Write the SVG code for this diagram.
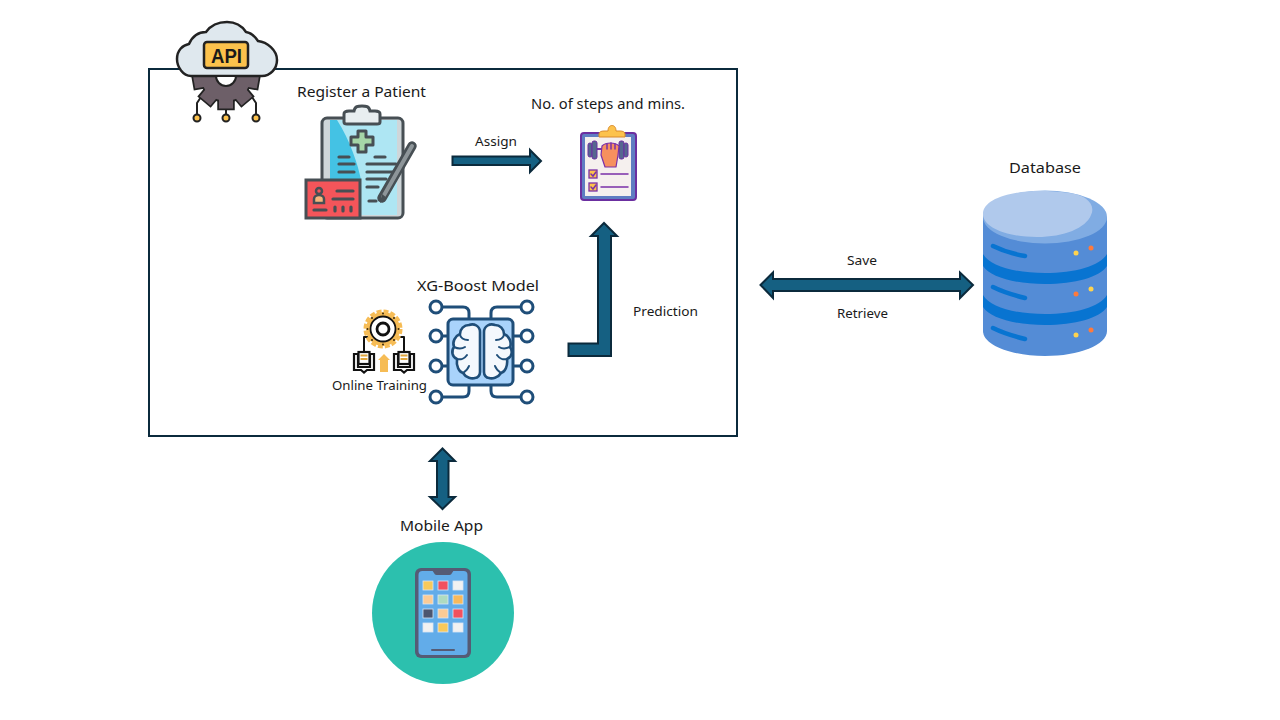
<svg xmlns="http://www.w3.org/2000/svg" width="1280" height="720" viewBox="0 0 1280 720">
<style>
text{font-family:"Noto Sans","Open Sans","Liberation Sans",sans-serif;fill:#1a1a1a;text-anchor:start}
.lg{font-size:14.5px}
.sm{font-size:12.5px}
.arr{fill:#156082;stroke:#0b2a3c;stroke-width:2;stroke-linejoin:miter}
.ln{fill:none;stroke:#474f54;stroke-width:3.200;stroke-linecap:round;stroke-linejoin:round}
.bl{fill:none;stroke:#1f4e79;stroke-width:3;stroke-linecap:round;stroke-linejoin:round}
.nd{fill:#fff;stroke:#1f4e79;stroke-width:3}
.k{fill:none;stroke:#111;stroke-width:1.800;stroke-linejoin:round;stroke-linecap:round}
.bk{fill:#fff;stroke:#111;stroke-width:2.200;stroke-linejoin:miter}
.p{fill:none;stroke:#7a2fa8;stroke-width:1.500;stroke-linecap:round}
.dbl{fill:none;stroke:#0874d1;stroke-width:4.500;stroke-linecap:round}
.y{fill:#ffd34e}.o{fill:#ff7a3c}
.ap{stroke:#d9e6f5;stroke-width:.8}
.lobe{fill:#f4f8fd;stroke:#1f4e79;stroke-width:2.600;stroke-linejoin:round}
.fold{fill:none;stroke:#1f4e79;stroke-width:2;stroke-linecap:round}
.dot{fill:#3a2a10}
</style>
<defs>
<g id="gearshape">
<rect x="-7" y="20" width="14" height="12.500" transform="rotate(0)"/>
<rect x="-7" y="20" width="14" height="12.500" transform="rotate(40)"/>
<rect x="-7" y="20" width="14" height="12.500" transform="rotate(-40)"/>
<rect x="-7" y="20" width="14" height="12.500" transform="rotate(80)"/>
<rect x="-7" y="20" width="14" height="12.500" transform="rotate(-80)"/>
<circle r="25"/>
</g>
<g id="book">
<path class="bk" d="M-10 -7H-6V6H6V-7H10V9H3L0 11.500L-3 9H-10Z"/>
<rect class="bk" x="-5.500" y="-9" width="11" height="12"/>
<path d="M-3.500 -5.500H3.500M-3.500 -2H3.500" stroke="#e0a63d" stroke-width="1.800"/>
</g>
<g id="lobe">
<path class="lobe" d="M480 332C480 326 474 323 469 325C464 325 460 329 460 334C455 336 452 342 454 347C451 351 452 357 457 359C456 366 459 372 463 373C466 378 472 379 475 378C478 378 480 375 480 372Z"/>
<path class="fold" d="M460 334C460 338 464 340 468 340M454 347C458 349 462 349 465 347M457 359C461 360 465 358 467 355M463 373C466 371 468 369 469 366"/>
</g>
</defs>
<rect width="1280" height="720" fill="#fff"/>
<g id="frame"><rect x="149" y="69" width="588" height="367" fill="#fff" stroke="#0b2a3c" stroke-width="2"/></g>

<g id="connectors">
<path class="arr" d="M452.500 156.500H530V150L541 161L530 172V165H452.500Z"/>
<path class="arr" d="M568.500 343.500H598V236H591L604 223L617 236H611V356H568.500Z"/>
<path class="arr" d="M760.500 285L773 272.500V279H960V272.500L973 285L960 298V291H773V298Z"/>
<path class="arr" d="M442.500 448.500L455 461H448.500V497H455L442.500 509L430 497H437V461H430Z"/>
</g>

<g id="api">
<path class="k" style="stroke:#222;stroke-width:2" d="M203 94L197 103V114M226 104V114M250 94L256 103V114"/>
<use href="#gearshape" transform="translate(226 76)" fill="#6d5f68" stroke="#222" stroke-width="3.500"/>
<use href="#gearshape" transform="translate(226 76)" fill="#6d5f68"/>
<g fill="#fcc24c" stroke="#222" stroke-width="2"><circle cx="197" cy="118" r="3.500"/><circle cx="226" cy="118" r="3.500"/><circle cx="256" cy="118" r="3.500"/></g>
<path d="M191 76C183 76 177 67 177 59C177 50 183 45 189 44C193 35 200 32 206 32C211 25 218 22 227 22C236 22 242 26 246 32C252 33 256 38 258 41C267 42 277 50 277 60C277 69 270 76 262 76Z" fill="#dfe8ee" stroke="#222" stroke-width="2.500" stroke-linejoin="round"/>
<path d="M216 76A10 10 0 0 0 236 76Z" fill="#fff" stroke="#222" stroke-width="2"/>
<rect x="204" y="42" width="44" height="26" rx="3" fill="#fcc24c" stroke="#222" stroke-width="2.500"/>
<text x="211" y="63" textLength="31" lengthAdjust="spacingAndGlyphs" style="font-family:'Liberation Sans',sans-serif;font-weight:700;font-size:21px">API</text>
</g>

<g id="register">
<text class="lg" x="297" y="97" textLength="129" lengthAdjust="spacingAndGlyphs">Register a Patient</text>
<rect x="322" y="118" width="81" height="100" rx="5" fill="#cfd6d9" stroke="#474f54" stroke-width="3"/>
<rect x="330" y="120" width="67" height="95" fill="#44c2e4"/>
<path d="M337 120H397V215H361V180C358 165 350 140 337 120Z" fill="#aee6f3"/>
<path d="M344 122V114C344 112 346 111 349 111H354C355 106 358 106 362 106C366 106 369 106 370 111H375C378 111 380 112 380 114V122C380 123 379 124 377 124H347C345 124 344 123 344 122Z" fill="#e8eef0" stroke="#474f54" stroke-width="3"/>
<path d="M358 131H366V137H373V145H366V152H358V145H351V137H358Z" fill="#a5d6a7" stroke="#474f54" stroke-width="3" stroke-linejoin="round"/>
<path class="ln" d="M339 157H349M339 164H354M339 172H354M375 157H385M367 164H396M367 172H394M367 179H386M367 187H378M369 201H376"/>
<path d="M382 198L412 146" stroke="#474f54" stroke-width="9.500" stroke-linecap="round" fill="none"/>
<path d="M383 197L412 146" stroke="#8d9599" stroke-width="4" stroke-linecap="round" fill="none"/>
<path d="M382 194L380 203L387 198Z" fill="#474f54"/>
<rect x="306" y="180" width="54" height="38" fill="#f4555a" stroke="#474f54" stroke-width="3"/>
<circle cx="319" cy="191" r="3" fill="#f4555a" stroke="#474f54" stroke-width="2.500"/>
<path d="M314 203V199C314 197 316 195 319 195C322 195 324 197 324 199V203Z" fill="#f7b77c" stroke="#474f54" stroke-width="2.500"/>
<path class="ln" d="M337 191H353M333 199H353M314 210H326M335 207V211M343 207V211M351 207V211"/>
</g>

<g id="assign-label"><text class="sm" x="475" y="146" textLength="42" lengthAdjust="spacingAndGlyphs">Assign</text></g>

<g id="steps">
<text class="lg" x="531" y="109" textLength="154" lengthAdjust="spacingAndGlyphs">No. of steps and mins.</text>
<rect x="581" y="133" width="55" height="67" rx="3" fill="#5f7dc2" stroke="#6b2fa0" stroke-width="2"/>
<rect x="585" y="137" width="46" height="59" fill="#f5f0ee"/>
<path d="M599 137V134C599 132 601 131 604 131H608C608 127 610 125.500 612 125.500C614 125.500 616 127 616 131H620C623 131 625 132 625 134V137Z" fill="#fcc24c" stroke="#d98a2b" stroke-width="1"/>
<path d="M596 149H621" stroke="#7a2fa8" stroke-width="2"/>
<rect x="588" y="143" width="4" height="14" rx="2" fill="#56678f" stroke="#6b2fa0"/>
<rect x="592" y="141" width="5" height="18" rx="2" fill="#56678f" stroke="#6b2fa0"/>
<rect x="619" y="141" width="5" height="18" rx="2" fill="#56678f" stroke="#6b2fa0"/>
<rect x="624" y="143" width="4" height="14" rx="2" fill="#56678f" stroke="#6b2fa0"/>
<path d="M602 146C606 142 615 142 619 146L618 155L616 167H605L601 155Z" fill="#f6905f" stroke="#7a2fa8" stroke-width="1.200" stroke-linejoin="round"/>
<path class="p" d="M607 144V149M611 143V149M615 144V149"/>
<rect x="589" y="170" width="8" height="8" fill="#fcc24c" stroke="#7a2fa8" stroke-width="1.300"/>
<rect x="589" y="183" width="8" height="8" fill="#fcc24c" stroke="#7a2fa8" stroke-width="1.300"/>
<path class="p" d="M591 174L593 176L596 172M591 187L593 189L596 185M601 174H628M601 187H628"/>
</g>

<g id="model">
<text class="lg" x="417" y="291" textLength="122" lengthAdjust="spacingAndGlyphs">XG-Boost Model</text>
<path class="bl" d="M442 307H463C467 307 469 309 469 313V319M442 336H448M442 366H448M442 397H463C467 397 469 395 469 391V385M521 307H497C493 307 491 309 491 313V319M521 336H513M521 366H513M521 397H497C493 397 491 395 491 391V385"/>
<circle class="nd" cx="436" cy="307" r="6"/><circle class="nd" cx="436" cy="336" r="6"/><circle class="nd" cx="436" cy="366" r="6"/><circle class="nd" cx="436" cy="397" r="6"/>
<circle class="nd" cx="527" cy="307" r="6"/><circle class="nd" cx="527" cy="336" r="6"/><circle class="nd" cx="527" cy="366" r="6"/><circle class="nd" cx="527" cy="397" r="6"/>
<rect x="448" y="319" width="65" height="66" rx="5" fill="#a9d3fb" stroke="#1f4e79" stroke-width="3"/>
<use href="#lobe"/>
<use href="#lobe" transform="translate(964 0) scale(-1 1)"/>
</g>

<g id="training">
<path class="k" style="stroke-width:2" d="M371 337H364V353M396 337H404V353"/>
<circle cx="383" cy="329" r="18" fill="none" stroke="#f6bc55" stroke-width="3" stroke-dasharray="5 2.070"/>
<circle cx="383" cy="329" r="17" fill="#f6bc55"/>
<circle class="dot" cx="383" cy="313.500" r="1"/><circle class="dot" cx="383" cy="344.500" r="1"/><circle class="dot" cx="367.500" cy="329" r="1"/><circle class="dot" cx="398.500" cy="329" r="1"/>
<circle class="dot" cx="372" cy="318" r="1"/><circle class="dot" cx="394" cy="318" r="1"/><circle class="dot" cx="372" cy="340" r="1"/><circle class="dot" cx="394" cy="340" r="1"/>
<circle cx="383" cy="329" r="12.500" fill="#fff" stroke="#111" stroke-width="1.800"/>
<circle cx="383" cy="329" r="6" fill="#fff" stroke="#111" stroke-width="2.800"/>
<use href="#book" transform="translate(364 361)"/>
<use href="#book" transform="translate(404 361)"/>
<path d="M384 354L390 360H388V372H380V360H378Z" fill="#f6bc55"/>
<text class="sm" x="332" y="390" textLength="95" lengthAdjust="spacingAndGlyphs">Online Training</text>
</g>

<g id="prediction-label"><text class="sm" x="633" y="316" textLength="65" lengthAdjust="spacingAndGlyphs">Prediction</text></g>
<g id="save-label"><text class="sm" x="847" y="265" textLength="30" lengthAdjust="spacingAndGlyphs">Save</text></g>
<g id="retrieve-label"><text class="sm" x="837" y="318" textLength="51" lengthAdjust="spacingAndGlyphs">Retrieve</text></g>

<g id="database">
<text class="lg" x="1009" y="173" textLength="72" lengthAdjust="spacingAndGlyphs">Database</text>
<path d="M983 217V331C983 345 1011 356 1045 356C1079 356 1107 345 1107 331V217Z" fill="#548cd6"/>
<path d="M983 254C990 266 1015 273 1045 273C1075 273 1100 266 1107 254V266C1100 277 1075 284 1045 284C1015 284 990 277 983 266Z" fill="#0874d1"/>
<path d="M983 295C990 307 1015 314 1045 314C1075 314 1100 307 1107 295V307C1100 318 1075 325 1045 325C1015 325 990 318 983 307Z" fill="#0874d1"/>
<ellipse cx="1045" cy="217" rx="62" ry="26.500" fill="#80ace3"/>
<path d="M983 214C983 200 1008 191 1040 191C1060 191 1078 193 1085 198C1092 203 1094 209 1091 215C1086 228 1064 237 1037 237C1008 237 983 228 983 214Z" fill="#b0c9ec"/>
<path class="dbl" d="M993 246C1003 251 1013 254 1025 256M993 287C1003 292 1013 295 1025 298M993 328C1003 333 1013 336 1025 339"/>
<circle class="y" cx="1076" cy="253" r="2.500"/><circle class="o" cx="1091" cy="248" r="2.500"/>
<circle class="o" cx="1076" cy="294" r="2.500"/><circle class="y" cx="1091" cy="289" r="2.500"/>
<circle class="y" cx="1076" cy="335" r="2.500"/><circle class="o" cx="1091" cy="330" r="2.500"/>
</g>

<g id="mobile">
<text class="lg" x="400" y="531" textLength="83" lengthAdjust="spacingAndGlyphs">Mobile App</text>
<circle cx="443" cy="613" r="71" fill="#2cc0ae"/>
<rect x="415" y="568" width="56" height="90" rx="6" fill="#555b75"/>
<rect x="418.500" y="571" width="49" height="84" rx="4" fill="#62ace9"/>
<path d="M432 570H454L452 573C451 575 450 575 448 575H438C436 575 435 575 434 573Z" fill="#555b75"/>
<rect class="ap" x="423" y="581" width="10" height="9" fill="#f8c95b"/>
<rect class="ap" x="438" y="581" width="10" height="9" fill="#f2515f"/>
<rect class="ap" x="453" y="581" width="10" height="9" fill="#f1f1f1"/>
<rect class="ap" x="423" y="595" width="10" height="9" fill="#fbcb95"/>
<rect class="ap" x="438" y="595" width="10" height="9" fill="#aedbc0"/>
<rect class="ap" x="453" y="595" width="10" height="9" fill="#f8b95b"/>
<rect class="ap" x="423" y="609" width="10" height="9" fill="#4c5670"/>
<rect class="ap" x="438" y="609" width="10" height="9" fill="#fbcb95"/>
<rect class="ap" x="453" y="609" width="10" height="9" fill="#f2515f"/>
<rect class="ap" x="423" y="623" width="10" height="9" fill="#f1f1f1"/>
<rect class="ap" x="438" y="623" width="10" height="9" fill="#f8c95b"/>
<rect class="ap" x="453" y="623" width="10" height="9" fill="#f1f1f1"/>
<rect x="431" y="649" width="24" height="2" rx="1" fill="#555b75"/>
</g>
</svg>
